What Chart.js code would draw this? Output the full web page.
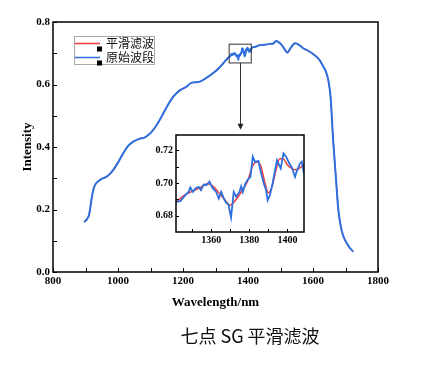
<!DOCTYPE html>
<html><head><meta charset="utf-8">
<script src="https://cdn.jsdelivr.net/npm/chart.js@4"></script>
<style>
html,body{margin:0;padding:0;background:#fff;}
#wrap{position:relative;width:428px;height:367px;overflow:hidden;background:#fff;}
canvas{position:absolute;left:0;top:0;}
#title{position:absolute;left:0;width:500px;top:323px;line-height:24px;text-align:center;font-family:"Noto Sans CJK SC",sans-serif;font-size:18px;color:#111;}
</style></head>
<body>
<div id="wrap">
<canvas id="main" width="428" height="367"></canvas>
<canvas id="inset" width="428" height="367"></canvas>
<div id="title">七点 SG 平滑滤波</div>
</div>
<script>
// ---- data ----
const wlLow  = [896, 905, 911, 916, 921, 926, 932, 940, 950, 965, 975, 985, 1000, 1016, 1030, 1047, 1065, 1083, 1095, 1104, 1120, 1134, 1150, 1170, 1180, 1191, 1211, 1227, 1240, 1252, 1273, 1298, 1310, 1324, 1334];
const intLow = [0.160, 0.170, 0.183, 0.215, 0.248, 0.270, 0.283, 0.291, 0.298, 0.305, 0.314, 0.326, 0.350, 0.380, 0.402, 0.417, 0.426, 0.431, 0.440, 0.449, 0.472, 0.497, 0.528, 0.561, 0.572, 0.582, 0.593, 0.606, 0.607, 0.609, 0.622, 0.641, 0.652, 0.668, 0.680];

const wlZoom  = [1341.5,1343.8,1346.4,1348.1,1349,1350.4,1351.6,1353.4,1354.6,1356,1357.4,1359.1,1360.8,1362.6,1364,1365.2,1366.6,1367.8,1369,1370.4,1371.8,1373.1,1374.8,1375.7,1376.6,1377.8,1379.2,1380.6,1381.8,1383,1384.8,1385.8,1387.6,1388.8,1389.6,1390.8,1392.2,1394.5,1395.7,1396.5,1397.9,1399.3,1401,1402.2,1404,1404.8,1406.6,1407.5,1408.7];
const rawZoom = [0.6885,0.689,0.6926,0.6946,0.6973,0.6946,0.6967,0.6977,0.6956,0.6991,0.6987,0.7008,0.6967,0.6946,0.6906,0.6946,0.6906,0.6879,0.6871,0.679,0.6946,0.6916,0.6946,0.698,0.6946,0.6993,0.7021,0.7038,0.716,0.7129,0.7135,0.7078,0.6997,0.6956,0.6895,0.6926,0.6997,0.7139,0.7109,0.7088,0.718,0.716,0.7119,0.7098,0.7038,0.7068,0.7119,0.713,0.7058];

const wlSmooth = [1341.5,1346,1350,1354,1358,1361,1364,1367,1370,1373,1376,1379,1382,1384,1386,1388,1390,1392,1394,1396,1398,1400,1402,1404,1406,1408.7];
const smooth   = [0.6885,0.6926,0.695,0.697,0.6995,0.698,0.694,0.690,0.6865,0.690,0.695,0.701,0.711,0.7128,0.7105,0.701,0.694,0.698,0.708,0.7148,0.7145,0.711,0.709,0.708,0.7088,0.711];

const wlHigh  = [1411, 1420, 1437, 1450, 1468, 1478, 1486, 1495, 1504, 1512, 1521, 1532, 1545, 1558, 1570, 1585, 1601, 1619, 1632, 1640, 1647, 1654, 1662, 1671, 1678, 1688, 1696, 1704, 1714, 1724];
const intHigh = [0.716, 0.720, 0.726, 0.727, 0.730, 0.731, 0.739, 0.735, 0.726, 0.714, 0.702, 0.718, 0.732, 0.726, 0.716, 0.708, 0.697, 0.680, 0.657, 0.640, 0.614, 0.561, 0.422, 0.294, 0.198, 0.134, 0.108, 0.092, 0.076, 0.065];

const xTickLabels = [800, 1000, 1200, 1400, 1600, 1800];
const yTickLabels = [0.0, 0.2, 0.4, 0.6, 0.8];
const insetXTickLabels = [1360, 1380, 1400];
const insetYTickLabels = [0.68, 0.70, 0.72];
const legendLabels = ['平滑滤波', '原始波段'];
const seriesNames = ['原始波段', '平滑滤波'];
const zoomBox = {x0: 1342, x1: 1410, y0: 0.669, y1: 0.729};
const arrowTip = 0.455;

// ---- helpers ----
function pts(xs, ys){ return xs.map((x,i)=>({x:x, y:ys[i]})); }
const BLUE = '#2c6fdf', RED = '#f23b3b';
const SERIF = '"Liberation Serif","DejaVu Serif",serif';
const near = (arr, v) => arr.some(l => Math.abs(l - v) < 1e-6);

const frameTicks = {
  id: 'frameTicks',
  beforeDatasetsDraw(c, args, opts){
    if (!opts.fill) return;
    const {ctx, chartArea:a} = c;
    ctx.save(); ctx.fillStyle = '#fff';
    ctx.fillRect(a.left, a.top, a.right-a.left, a.bottom-a.top);
    ctx.restore();
  },
  afterDraw(c, args, opts){
    const {ctx, chartArea:a, scales} = c;
    ctx.save();
    ctx.strokeStyle = '#000';
    ctx.lineWidth = 1;
    ctx.beginPath();
    scales.x.ticks.forEach(t => { const px = Math.round(scales.x.getPixelForValue(t.value)) + 0.5; ctx.moveTo(px, a.bottom); ctx.lineTo(px, a.bottom - opts.len); });
    scales.y.ticks.forEach(t => { const py = Math.round(scales.y.getPixelForValue(t.value)) + 0.5; ctx.moveTo(a.left, py); ctx.lineTo(a.left + opts.len, py); });
    ctx.stroke();
    ctx.lineWidth = opts.lw;
    ctx.strokeRect(a.left, a.top, a.right-a.left, a.bottom-a.top);
    ctx.restore();
  }
};

const annot = {
  id: 'annot',
  afterDraw(c){
    const {ctx, scales:{x, y}} = c;
    ctx.save();
    const rx0 = x.getPixelForValue(zoomBox.x0), rx1 = x.getPixelForValue(zoomBox.x1);
    const ry0 = y.getPixelForValue(zoomBox.y1), ry1 = y.getPixelForValue(zoomBox.y0);
    ctx.strokeStyle = '#333'; ctx.lineWidth = 1;
    ctx.strokeRect(rx0, ry0, rx1-rx0, ry1-ry0);
    const ax = Math.round((rx0+rx1)/2) + 0.5;
    const tip = y.getPixelForValue(arrowTip);
    ctx.beginPath(); ctx.moveTo(ax, ry1); ctx.lineTo(ax, tip - 4); ctx.stroke();
    ctx.fillStyle = '#222';
    ctx.beginPath(); ctx.moveTo(ax-3, tip-6); ctx.lineTo(ax+3, tip-6); ctx.lineTo(ax, tip); ctx.closePath(); ctx.fill();
    ctx.strokeStyle = '#a8a8a8'; ctx.lineWidth = 1;
    ctx.strokeRect(74.5, 36.5, 80, 28);
    const rows = [{c:RED, y:43.5}, {c:BLUE, y:57.5}];
    ctx.font = '12px "Noto Sans CJK SC", sans-serif';
    ctx.textBaseline = 'middle'; ctx.textAlign = 'left';
    rows.forEach((r,i) => {
      ctx.strokeStyle = r.c; ctx.lineWidth = 1.5;
      ctx.beginPath(); ctx.moveTo(75, r.y); ctx.lineTo(100, r.y); ctx.stroke();
      ctx.fillStyle = '#000'; ctx.fillRect(97, r.y + 3, 5, 5);
      ctx.fillStyle = '#111'; ctx.fillText(legendLabels[i], 106, r.y);
    });
    ctx.restore();
  }
};

const mainRaw = pts(wlLow, intLow).concat(pts(wlZoom, rawZoom), pts(wlHigh, intHigh));
const mainSmooth = pts(wlLow, intLow).concat(pts(wlSmooth, smooth), pts(wlHigh, intHigh));

new Chart(document.getElementById('main'), {
  type: 'line',
  data: { datasets: [
    {label: seriesNames[0], data: mainRaw, borderColor: BLUE, borderWidth: 2, pointRadius: 0, cubicInterpolationMode: 'monotone'},
    {label: seriesNames[1], data: mainSmooth, borderColor: RED, borderWidth: 1.3, pointRadius: 0, cubicInterpolationMode: 'monotone'}
  ]},
  options: {
    responsive: false, animation: false, devicePixelRatio: 1,
    layout: { padding: {left: 16, top: 22, right: 50, bottom: 53} },
    plugins: { legend: {display: false}, tooltip: {enabled: false}, frameTicks: {lw: 1.5, len: 4, fill: false} },
    scales: {
      x: { type: 'linear', min: 800, max: 1800,
        ticks: { stepSize: 100, autoSkip: false, maxRotation: 0, color: '#000', padding: 3,
          font: {family: SERIF, weight: 'bold', size: 11},
          callback: v => near(xTickLabels, v) ? String(v) : '' },
        grid: { display: false, drawTicks: false }, border: { display: false },
        title: { display: true, text: 'Wavelength/nm', color: '#000', font: {family: SERIF, weight: 'bold', size: 13}, padding: {top: 4, bottom: 4} },
        afterFit: s => { s.height = 42; } },
      y: { type: 'linear', min: 0, max: 0.8,
        ticks: { stepSize: 0.1, autoSkip: false, color: '#000', padding: 3,
          font: {family: SERIF, weight: 'bold', size: 11},
          callback: v => near(yTickLabels, v) ? v.toFixed(1) : '' },
        grid: { display: false, drawTicks: false }, border: { display: false },
        title: { display: true, text: 'Intensity', color: '#000', font: {family: SERIF, weight: 'bold', size: 13}, padding: {top: 4, bottom: 4} },
        afterFit: s => { s.width = 37; } }
    }
  },
  plugins: [frameTicks, annot]
});

new Chart(document.getElementById('inset'), {
  type: 'line',
  data: { datasets: [
    {label: seriesNames[0], data: pts(wlZoom, rawZoom), borderColor: BLUE, borderWidth: 1.8, pointRadius: 0, tension: 0},
    {label: seriesNames[1], data: pts(wlSmooth, smooth), borderColor: RED, borderWidth: 1.5, pointRadius: 0, cubicInterpolationMode: 'monotone'}
  ]},
  options: {
    responsive: false, animation: false, devicePixelRatio: 1,
    layout: { padding: {left: 140, top: 135, right: 124, bottom: 115} },
    plugins: { legend: {display: false}, tooltip: {enabled: false}, frameTicks: {lw: 1.5, len: 3, fill: true} },
    scales: {
      x: { type: 'linear', min: 1341.5, max: 1408.7,
        ticks: { stepSize: 10, includeBounds: false, autoSkip: false, maxRotation: 0, color: '#000', padding: 2,
          font: {family: SERIF, weight: 'bold', size: 10},
          callback: v => near(insetXTickLabels, v) ? String(v) : '' },
        grid: { display: false, drawTicks: false }, border: { display: false },
        afterFit: s => { s.height = 20; } },
      y: { type: 'linear', min: 0.6702, max: 0.7292,
        ticks: { stepSize: 0.01, includeBounds: false, autoSkip: false, color: '#000', padding: 3,
          font: {family: SERIF, weight: 'bold', size: 10},
          callback: v => near(insetYTickLabels, v) ? v.toFixed(2) : '' },
        grid: { display: false, drawTicks: false }, border: { display: false },
        afterFit: s => { s.width = 36; } }
    }
  },
  plugins: [frameTicks]
});
</script>
</body></html>
